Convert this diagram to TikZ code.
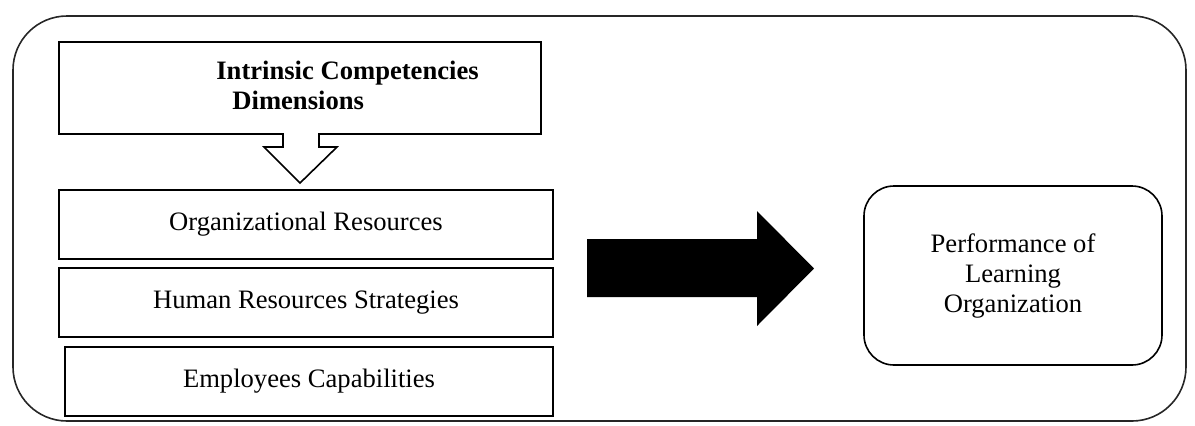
\documentclass[tikz,border=0pt]{standalone}
\usepackage{fontspec}
\setmainfont{Liberation Serif}
\usetikzlibrary{positioning}

\begin{document}
\begin{tikzpicture}
[x=0.5pt,y=-0.5pt,
  linedecorate/.style={thick,draw=black!85},%
  boxdecorate/.style={shape=rectangle,draw,thick,inner sep=0pt,
    minimum width=247pt,minimum height=34.5pt,
    font=\fontsize{13.3}{15}\selectfont},
  textdecorate/.style={inner sep=0pt,align=center,
    font=\fontsize{13.3}{15}\selectfont}]
%%
\useasboundingbox (0,0) rectangle (1195,425);
%% Outer frame
\node (frame) at (599.5,218.5) [shape=rectangle,linedecorate,
  rounded corners=27pt,minimum width=586.5pt,minimum height=202.5pt] {};
%%
%% Dimensions box with its hollow arrow
\draw[linedecorate,draw=black]
  (59,42) -- (541,42) -- (541,134) -- (319,134) -- (319,147) -- (337,147)
  -- (300,183) -- (264,147) -- (283,147) -- (283,134) -- (59,134) -- cycle;
\node (title) at (216,85) [textdecorate,anchor=west,align=left,
  font=\fontsize{13.3}{15}\selectfont\bfseries]
  {Intrinsic Competencies\\\hspace{8pt}Dimensions};
%%
%% Resource boxes
\foreach \nodename/\x/\y/\w/\labeltext in {
  orgres/306/224.5/247/Organizational Resources,
  hrstrat/306/302.5/247/Human Resources Strategies,
  empcap/309/381.5/244/Employees Capabilities}
{
  \node (\nodename) at (\x,\y) [boxdecorate,minimum width=\w pt] {\labeltext};
}
%%
%% Black arrow
\fill (587,239) -- (757,239) -- (757,211) -- (814,268.5) -- (757,326)
  -- (757,297) -- (587,297) -- cycle;
%%
%% Performance box
\node (perf) at (1013,275.5) [shape=rectangle,draw,thick,rounded corners=15pt,
  minimum width=149pt,minimum height=89.5pt,textdecorate]
  {Performance of\\Learning\\Organization};
\end{tikzpicture}
\end{document}
